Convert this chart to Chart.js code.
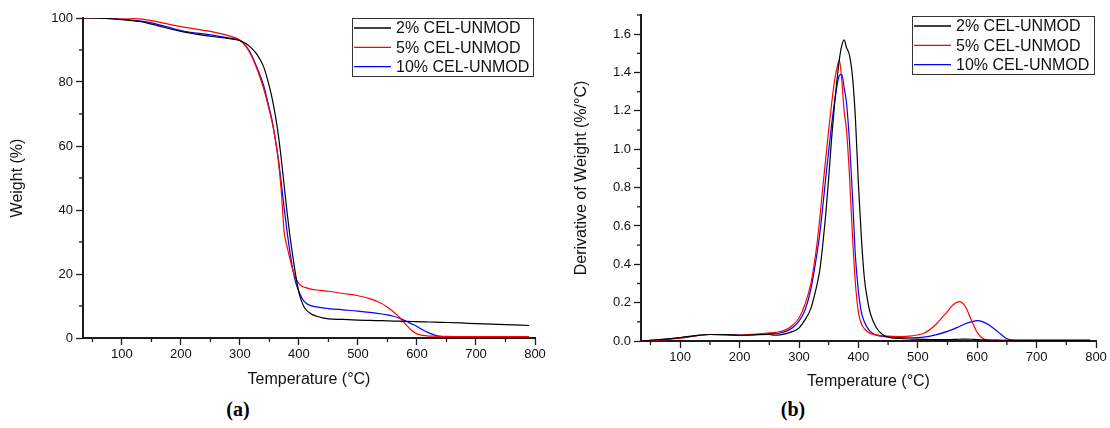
<!DOCTYPE html>
<html><head><meta charset="utf-8">
<script src="https://cdn.jsdelivr.net/npm/chart.js@4.4.1/dist/chart.umd.min.js"></script>
<style>
html,body{margin:0;padding:0;background:#fff;}
#wrap{position:relative;width:1110px;height:428px;overflow:hidden;background:#fff;}
.cv{position:absolute;top:0;width:555px;height:392px;}
.cap{position:absolute;top:397px;line-height:24px;font-family:"Liberation Serif","DejaVu Serif",serif;font-weight:bold;font-size:20px;color:#000;transform:translateX(-50%);}
</style></head><body>
<div id="wrap">
<canvas id="c1" class="cv" width="555" height="392" style="left:0"></canvas>
<canvas id="c2" class="cv" width="555" height="392" style="left:555px"></canvas>
<div class="cap" style="left:238px">(a)</div>
<div class="cap" style="left:793px">(b)</div>
</div>
<script>
// ---------- data ----------
const seriesLabels = ['2% CEL-UNMOD', '5% CEL-UNMOD', '10% CEL-UNMOD'];
const seriesColors = ['#000000', '#ff0000', '#0000ff'];

// (a) TGA: temperature (°C) and weight (%)
const tgaTemp = [35,50,100,130,150,200,250,280,300,310,320,330,340,350,355,360,365,370,375,380,385,390,395,400,405,410,420,430,440,450,475,500,520,540,550,560,570,580,590,600,610,620,630,640,650,675,700,750,790];
const tga2  = [100,100,99.5,98.9,98.1,95.8,94.3,93.6,92.9,92.0,90.5,88.3,84.8,78.5,74.5,69.5,63.5,56,47.5,39,31.5,25,19,14.2,11.2,9.3,7.6,6.8,6.3,6.0,5.8,5.6,5.5,5.4,5.35,5.3,5.25,5.2,5.15,5.1,5.05,5.0,4.95,4.9,4.85,4.7,4.5,4.2,3.9];
const tga5  = [100,100,100,99.7,99.2,97.3,95.8,94.5,93.1,91.2,88,83.5,78,71,67,62,55.5,46,33,28.5,24.5,21,18.5,17,16.2,15.8,15.3,15.0,14.8,14.6,13.9,13.2,12.3,10.8,9.6,8.2,6.5,4.4,2.5,1.3,0.8,0.6,0.55,0.5,0.5,0.45,0.45,0.4,0.4];
const tga10 = [100,100,99.6,99.1,98.5,96.1,94.7,93.8,93.0,91.3,88.3,84,79,71.5,67.5,62,56,48.5,40.5,33,26.5,21,17,14.5,12.5,11.2,10.1,9.7,9.4,9.2,8.8,8.4,8.0,7.5,7.2,6.8,6.2,5.4,4.5,3.6,2.5,1.6,0.9,0.5,0.3,0.2,0.15,0.1,0.1];

// (b) DTG: temperature (°C) and derivative of weight (%/°C)
const dtgTemp = [35,50,75,100,125,150,175,200,225,250,260,270,280,290,300,310,320,330,335,340,345,350,355,360,365,368,372,376,380,385,390,395,400,405,410,415,420,430,440,450,470,490,510,530,550,560,570,580,590,600,610,620,630,640,650,660,680,700,750,790];
const dtg2  = [0,0.004,0.01,0.018,0.028,0.034,0.033,0.03,0.032,0.034,0.03,0.033,0.04,0.05,0.068,0.11,0.17,0.29,0.37,0.5,0.66,0.85,1.06,1.24,1.39,1.47,1.54,1.57,1.53,1.49,1.38,1.16,0.82,0.54,0.33,0.22,0.145,0.07,0.035,0.02,0.013,0.01,0.008,0.007,0.007,0.008,0.009,0.01,0.009,0.007,0.006,0.005,0.005,0.004,0.004,0.004,0.003,0.003,0.003,0.003];
const dtg5  = [0,0.002,0.007,0.015,0.026,0.034,0.033,0.031,0.035,0.042,0.045,0.05,0.062,0.085,0.12,0.19,0.3,0.5,0.64,0.8,0.95,1.1,1.24,1.36,1.44,1.465,1.36,1.2,1.1,0.86,0.55,0.3,0.15,0.09,0.065,0.05,0.04,0.032,0.027,0.025,0.023,0.027,0.04,0.085,0.155,0.19,0.205,0.18,0.11,0.045,0.012,0.005,0.003,0.003,0.003,0.003,0.003,0.003,0.003,0.003];
const dtg10 = [0,0.003,0.009,0.017,0.027,0.034,0.033,0.03,0.033,0.038,0.038,0.043,0.053,0.072,0.104,0.16,0.27,0.45,0.56,0.7,0.85,0.99,1.13,1.25,1.35,1.385,1.39,1.32,1.24,1.04,0.76,0.44,0.26,0.15,0.1,0.07,0.05,0.03,0.024,0.021,0.018,0.017,0.02,0.032,0.05,0.062,0.076,0.09,0.1,0.106,0.1,0.083,0.06,0.035,0.012,0.005,0.003,0.003,0.003,0.003];

// ticks
const xMajor = [100,200,300,400,500,600,700,800];
const xMinor = [50,150,250,350,450,550,650,750];
const yMajorA = [0,20,40,60,80,100];
const yMinorA = [10,30,50,70,90];
const yMajorB = [0,0.2,0.4,0.6,0.8,1.0,1.2,1.4,1.6];
const yMinorB = [0.1,0.3,0.5,0.7,0.9,1.1,1.3,1.5,1.7];

// ---------- helpers ----------
const FONT = "'Liberation Sans', Arial, sans-serif";
const AX = '#1c1c1c';
const TXT = '#111111';
function pts(xs, ys){ return xs.map((x,i)=>({x:x, y:ys[i]})); }

const minorTicks = {
  id:'minorTicks',
  afterDraw(chart, args, o){
    const ctx = chart.ctx, xs = chart.scales.x, ys = chart.scales.y;
    ctx.save(); ctx.strokeStyle = AX; ctx.lineWidth = 1.3;
    o.x.forEach(v => { const p = xs.getPixelForValue(v); ctx.beginPath(); ctx.moveTo(p, xs.top); ctx.lineTo(p, xs.top + 4); ctx.stroke(); });
    o.y.forEach(v => { const p = ys.getPixelForValue(v); ctx.beginPath(); ctx.moveTo(ys.right, p); ctx.lineTo(ys.right - 4, p); ctx.stroke(); });
    ctx.restore();
  }
};

const boxLegend = {
  id:'boxLegend',
  afterDraw(chart, args, o){
    const ctx = chart.ctx, ca = chart.chartArea;
    const x0 = Math.round(ca.right - o.dx - o.w), y0 = Math.round(ca.top + o.dy);
    ctx.save();
    ctx.fillStyle = '#fff'; ctx.fillRect(x0, y0, o.w, o.h);
    ctx.strokeStyle = '#333'; ctx.lineWidth = 1; ctx.strokeRect(x0 + 0.5, y0 + 0.5, o.w, o.h);
    ctx.font = '16px ' + FONT; ctx.textBaseline = 'middle'; ctx.textAlign = 'left';
    chart.data.datasets.forEach((ds, i) => {
      const y = y0 + o.first + i * o.step;
      ctx.strokeStyle = ds.borderColor; ctx.lineWidth = 1.3;
      ctx.beginPath(); ctx.moveTo(x0 + 2, y); ctx.lineTo(x0 + 39, y); ctx.stroke();
      ctx.fillStyle = TXT; ctx.fillText(ds.label, x0 + 44, y + 1);
    });
    ctx.restore();
  }
};

function makeDatasets(temp, arrs){
  return arrs.map((a, i) => ({
    label: seriesLabels[i], data: pts(temp, a),
    borderColor: seriesColors[i], backgroundColor: seriesColors[i],
    borderWidth: 1.2, pointRadius: 0, fill: false, cubicInterpolationMode: 'monotone'
  }));
}

function makeChart(id, temp, arrs, cfg){
  return new Chart(document.getElementById(id), {
    type: 'line',
    data: { datasets: makeDatasets(temp, arrs) },
    plugins: [minorTicks, boxLegend],
    options: {
      responsive: false, animation: false, devicePixelRatio: 1,
      layout: { padding: cfg.pad },
      plugins: {
        legend: { display: false }, tooltip: { enabled: false },
        minorTicks: { x: xMinor, y: cfg.yMinor },
        boxLegend: cfg.legend
      },
      scales: {
        x: {
          type: 'linear', min: 34, max: 800,
          afterBuildTicks: s => { s.ticks = xMajor.map(v => ({value: v})); },
          afterFit: s => { s.height = cfg.xh; },
          grid: { display: true, drawOnChartArea: false, drawTicks: true, tickLength: 7, tickColor: AX, tickWidth: 1.3 },
          border: { display: true, color: AX, width: 2 },
          ticks: { font: { family: FONT, size: 13 }, color: TXT, padding: 2, maxRotation: 0, autoSkip: false },
          title: { display: true, text: 'Temperature (°C)', font: { family: FONT, size: 16 }, color: TXT, padding: { top: 0, bottom: cfg.xtp } }
        },
        y: {
          type: 'linear', min: 0, max: cfg.ymax,
          afterBuildTicks: s => { s.ticks = cfg.yMajor.map(v => ({value: v})); },
          afterFit: s => { s.width = cfg.yw; },
          grid: { display: true, drawOnChartArea: false, drawTicks: true, tickLength: 7, tickColor: AX, tickWidth: 1.3 },
          border: { display: true, color: AX, width: 2 },
          ticks: { font: { family: FONT, size: 13 }, color: TXT, padding: 3, callback: cfg.yfmt },
          title: { display: true, text: cfg.ytitle, font: { family: FONT, size: 16 }, color: TXT, padding: { top: cfg.ytp, bottom: 0 } }
        }
      }
    }
  });
}

makeChart('c1', tgaTemp, [tga2, tga5, tga10], {
  pad: { left: 0, right: 20, top: 18, bottom: 0 },
  xh: 54, yw: 83, xtp: 3, ytp: 8,
  ymax: 100, yMajor: yMajorA, yMinor: yMinorA,
  yfmt: v => String(v), ytitle: 'Weight (%)',
  legend: { w: 181, h: 58, dx: 2, dy: 0, first: 10, step: 19.3 }
});

makeChart('c2', dtgTemp, [dtg2, dtg5, dtg10], {
  pad: { left: 0, right: 14, top: 15, bottom: 0 },
  xh: 51, yw: 86, xtp: 1, ytp: 17,
  ymax: 1.7, yMajor: yMajorB, yMinor: yMinorB,
  yfmt: v => Number(v).toFixed(1), ytitle: 'Derivative of Weight (%/°C)',
  legend: { w: 182, h: 58, dx: 2, dy: 1, first: 10, step: 19.3 }
});
</script>
</body></html>
